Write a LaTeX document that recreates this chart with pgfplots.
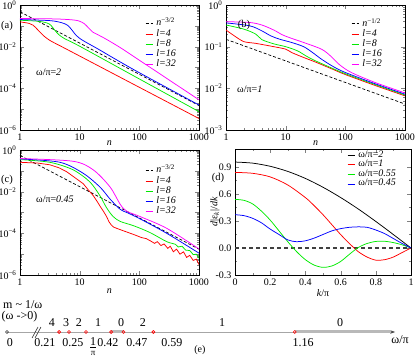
\documentclass[border=0pt]{standalone}
\usepackage{fontspec}
\setmainfont{Liberation Serif}
\usepackage{pgfplots}
\pgfplotsset{compat=1.18}
\usetikzlibrary{arrows.meta}
\definecolor{cR}{RGB}{255,0,0}
\definecolor{cG}{RGB}{0,235,0}
\definecolor{cB}{RGB}{0,0,255}
\definecolor{cM}{RGB}{255,0,255}
\pgfplotsset{
  base/.style={scale only axis, tick align=inside,
    tick label style={font=\fontsize{10}{12}\selectfont},
    label style={font=\fontsize{10}{12}\selectfont},
    major tick length=4pt, minor tick length=2pt,
    every axis plot/.append style={line width=0.75pt},
    legend cell align=left,
    legend style={draw=none, fill=none, anchor=north west, row sep=0pt, column sep=3pt,
      inner sep=0pt, font=\fontsize{10}{12}\selectfont,
      nodes={inner sep=0.5pt, text height=6.8pt, text depth=2.4pt}},
    legend image code/.code={\draw[##1] (0pt,0pt) -- (7pt,0pt);},
  },
  logpanel/.style={base, xmin=1, xmax=1000,
    xtick={1,10,100,1000}, xticklabels={1,10,100,1000},
    minor xtick={2,3,4,5,6,7,8,9,20,30,40,50,60,70,80,90,200,300,400,500,600,700,800,900},
    xlabel=\textit{n}},
  minysix/.style={minor ytick={2e-6,3e-6,4e-6,5e-6,6e-6,7e-6,8e-6,9e-6,2e-5,3e-5,4e-5,5e-5,6e-5,7e-5,8e-5,9e-5,2e-4,3e-4,4e-4,5e-4,6e-4,7e-4,8e-4,9e-4,2e-3,3e-3,4e-3,5e-3,6e-3,7e-3,8e-3,9e-3,0.02,0.03,0.04,0.05,0.06,0.07,0.08,0.09,0.2,0.3,0.4,0.5,0.6,0.7,0.8,0.9}},
  minythree/.style={minor ytick={2e-3,3e-3,4e-3,5e-3,6e-3,7e-3,8e-3,9e-3,0.02,0.03,0.04,0.05,0.06,0.07,0.08,0.09,0.2,0.3,0.4,0.5,0.6,0.7,0.8,0.9}},
  dashref/.style={black, dash pattern=on 3pt off 2pt, line width=0.7pt},
}
\begin{document}
\begin{tikzpicture}[x=1pt,y=1pt]
\useasboundingbox (0pt,0pt) rectangle (415pt,359pt);

% ---------------- (a)
\begin{axis}[xmode=log, ymode=log, logpanel, at={(20pt,229pt)}, anchor=south west, width=179pt, height=125pt,
  ymin=1e-6, ymax=1, minysix,
  ytick={1e-6,1e-5,1e-4,1e-3,1e-2,1e-1,1},
  yticklabels={10\textsuperscript{−6},,10\textsuperscript{−4},,10\textsuperscript{−2},,10\textsuperscript{0}},
  xlabel style={at={(axis description cs:0.5,-0.104)}, anchor=center},
  legend style={at={(0.698,0.892)}}]
\addplot[dashref] coordinates {(1,0.47) (1000,1.49e-5)};
\addlegendentry{\textit{n}\raisebox{3pt}{\scriptsize −3/2}}
\addplot[cR, smooth, tension=0.5] coordinates {(1,0.155) (1.41,0.132) (1.66,0.107) (2.0,0.0631) (2.45,0.0347) (3.16,0.0200) (5.01,0.0100) (10,0.00355) (100,1.12e-4) (1000,3.55e-6)};
\addlegendentry{\textit{l=4}}
\addplot[cG, smooth, tension=0.5] coordinates {(1,0.186) (2.0,0.166) (2.82,0.138) (3.31,0.105) (3.80,0.0631) (4.47,0.038) (5.62,0.024) (10,0.0105) (100,2.82e-4) (1000,7.59e-6)};
\addlegendentry{\textit{l=8}}
\addplot[cB, smooth, tension=0.5] coordinates {(1,0.200) (3.16,0.178) (5.01,0.141) (6.31,0.105) (7.41,0.0631) (8.51,0.038) (10,0.0251) (12.6,0.0166) (20,0.00794) (39.8,0.00251) (100,5.62e-4) (1000,1.58e-5)};
\addlegendentry{\textit{l=16}}
\addplot[cM, smooth, tension=0.5] coordinates {(1,0.224) (3.98,0.214) (7.94,0.191) (10,0.166) (12.0,0.126) (14.1,0.0794) (16.6,0.0501) (20,0.038) (28.2,0.0224) (50.1,0.00832) (100,0.00224) (316,2.51e-4) (1000,2.82e-5)};
\addlegendentry{\textit{l=32}}
\end{axis}

% ---------------- (b)
\begin{axis}[xmode=log, ymode=log, logpanel, at={(226pt,229pt)}, anchor=south west, width=179pt, height=125pt,
  ymin=1e-3, ymax=1, minythree,
  ytick={1e-3,1e-2,1e-1,1},
  yticklabels={10\textsuperscript{−3},10\textsuperscript{−2},10\textsuperscript{−1},10\textsuperscript{0}},
  xlabel style={at={(axis description cs:0.5,-0.104)}, anchor=center},
  legend style={at={(0.698,0.892)}}]
\addplot[dashref] coordinates {(1,0.15) (1000,0.0042)};
\addlegendentry{\textit{n}\raisebox{3pt}{\scriptsize −1/2}}
\addplot[cR, smooth, tension=0.5] coordinates {(1,0.251) (1.41,0.178) (2.0,0.132) (3.16,0.120) (6.31,0.1) (10,0.0871) (12.6,0.0724) (20,0.055) (31.6,0.0427) (63.1,0.0282) (100,0.0214) (316,0.0117) (1000,0.0066)};
\addlegendentry{\textit{l=4}}
\addplot[cG, smooth, tension=0.5] coordinates {(1,0.331) (2.0,0.263) (3.16,0.2) (3.98,0.148) (6.31,0.117) (10,0.1) (15.8,0.0794) (22.4,0.0589) (31.6,0.0457) (63.1,0.0295) (100,0.0224) (316,0.0123) (1000,0.00692)};
\addlegendentry{\textit{l=8}}
\addplot[cB, smooth, tension=0.5] coordinates {(1,0.372) (2.51,0.316) (3.98,0.24) (5.62,0.182) (7.94,0.151) (12.6,0.126) (20,0.1) (28.2,0.0724) (39.8,0.0501) (63.1,0.0331) (100,0.024) (316,0.0129) (1000,0.00724)};
\addlegendentry{\textit{l=16}}
\addplot[cM, smooth, tension=0.5] coordinates {(1,0.398) (2.51,0.380) (3.98,0.331) (6.31,0.251) (8.91,0.191) (12.6,0.158) (20,0.126) (39.8,0.0871) (56.2,0.0603) (79.4,0.0372) (126,0.024) (316,0.0138) (1000,0.00776)};
\addlegendentry{\textit{l=32}}
\end{axis}

% ---------------- (c)
\begin{axis}[xmode=log, ymode=log, logpanel, at={(20pt,84pt)}, anchor=south west, width=179pt, height=125pt,
  ymin=1e-6, ymax=1, minysix,
  ytick={1e-6,1e-5,1e-4,1e-3,1e-2,1e-1,1},
  yticklabels={10\textsuperscript{−6},,10\textsuperscript{−4},,10\textsuperscript{−2},,10\textsuperscript{0}},
  xlabel style={at={(axis description cs:0.5,-0.128)}, anchor=center},
  legend style={at={(0.698,0.876)}}]
\addplot[dashref] coordinates {(1,0.55) (1000,1.74e-5)};
\addlegendentry{\textit{n}\raisebox{3pt}{\scriptsize −3/2}}
\addplot[cR] coordinates {(1,0.257) (2,0.235) (3.16,0.195) (4.5,0.14) (6.03,0.0912) (8.5,0.045) (11.5,0.024) (14,0.012) (17.0,0.00631) (19.5,0.0035) (21.9,0.00204) (25,0.00115) (28.2,6.46e-4) (31,3.6e-4) (33.9,2.51e-4) (37,2.0e-4) (41.7,1.74e-4) (55,1.3e-4) (79.4,8.91e-5) (110,6.2e-5) (130,5.6e-5) (151,4.47e-5) (180,3.3e-5) (200,4.0e-5) (230,2.6e-5) (260,3.1e-5) (300,1.9e-5) (330,2.4e-5) (372,1.3e-5) (420,1.75e-5) (480,1.0e-5) (550,1.3e-5) (620,7e-6) (700,8.8e-6) (800,5e-6) (900,5.8e-6) (1000,3.16e-6)};
\addlegendentry{\textit{l=4}}
\addplot[cG, smooth, tension=0.5] coordinates {(1,0.347) (3.16,0.257) (7.76,0.112) (14.8,0.0295) (21.9,0.0063) (28.2,0.0017) (36.3,6.46e-4) (47.9,3.72e-4) (79.4,2.34e-4) (150,1.1e-4) (288,3.98e-5) (400,3.0e-5) (450,2.2e-5) (520,2.4e-5) (600,1.55e-5) (700,1.5e-5) (800,9.5e-6) (900,1.0e-5) (1000,6.31e-6)};
\addlegendentry{\textit{l=8}}
\addplot[cB, smooth, tension=0.5] coordinates {(1,0.372) (4.68,0.257) (11.5,0.0759) (21.9,0.0166) (32.4,0.00437) (47.9,0.00141) (61.7,0.001) (102,5.01e-4) (288,1.0e-4) (1000,1.12e-5)};
\addlegendentry{\textit{l=16}}
\addplot[cM, smooth, tension=0.5] coordinates {(1,0.389) (7.76,0.288) (17.0,0.110) (32.4,0.0166) (47.9,0.00245) (61.7,0.00115) (102,6.46e-4) (288,1.74e-4) (1000,1.78e-5)};
\addlegendentry{\textit{l=32}}
\end{axis}

% ---------------- (d)
\begin{axis}[base, at={(235pt,84pt)}, anchor=south west, width=176pt, height=126pt,
  xmin=0, xmax=1, ymin=-0.3, ymax=1.1,
  xtick={0,0.2,0.4,0.6,0.8,1}, xticklabels={0,0.2,0.4,0.6,0.8,1},
  ytick={-0.3,0,0.3,0.6,0.9}, yticklabels={-0.3,0.0,0.3,0.6,0.9},
  minor x tick num=1, minor y tick num=1,
  xlabel={\textit{k}/π},
  xlabel style={at={(axis description cs:0.5,-0.142)}, anchor=center},
  ylabel={\textit{d}|ε\textsubscript{\textit{k}}|/\textit{dk}},
  ylabel style={at={(axis description cs:-0.114,0.5)}, anchor=center, rotate=0},
  legend style={at={(0.636,0.99)}, nodes={inner sep=0.5pt, text height=6.2pt, text depth=2.4pt}}]
\addplot[black!75, dash pattern=on 4pt off 3pt, line width=1.1pt, forget plot] coordinates {(0,0) (1,0)};
\addplot[black, smooth] coordinates {(0,0.955) (0.1,0.943) (0.2,0.908) (0.3,0.851) (0.4,0.773) (0.5,0.675) (0.6,0.561) (0.7,0.434) (0.8,0.295) (0.9,0.149) (1,0)};
\addlegendentry{ω/π=\textit{2}}
\addplot[cR, smooth] coordinates {(0,0.84) (0.1,0.83) (0.2,0.79) (0.3,0.70) (0.4,0.56) (0.45,0.47) (0.5,0.37) (0.55,0.26) (0.6,0.15) (0.65,0.05) (0.7,-0.04) (0.75,-0.10) (0.8,-0.135) (0.85,-0.13) (0.9,-0.10) (0.95,-0.05) (1,0)};
\addlegendentry{ω/π=\textit{1}}
\addplot[cG, smooth] coordinates {(0,0.54) (0.05,0.53) (0.1,0.49) (0.15,0.41) (0.2,0.31) (0.25,0.19) (0.3,0.07) (0.35,-0.04) (0.4,-0.13) (0.45,-0.19) (0.5,-0.215) (0.55,-0.20) (0.6,-0.15) (0.65,-0.07) (0.7,0.005) (0.75,0.05) (0.8,0.073) (0.85,0.075) (0.9,0.06) (0.95,0.035) (1,0)};
\addlegendentry{ω/π=\textit{0.55}}
\addplot[cB, smooth] coordinates {(0,0.37) (0.05,0.36) (0.1,0.33) (0.15,0.28) (0.2,0.21) (0.25,0.15) (0.3,0.09) (0.35,0.07) (0.4,0.08) (0.45,0.11) (0.5,0.15) (0.55,0.19) (0.6,0.215) (0.65,0.23) (0.7,0.235) (0.75,0.23) (0.8,0.20) (0.85,0.16) (0.9,0.105) (0.95,0.05) (1,0)};
\addlegendentry{ω/π=\textit{0.45}}
\end{axis}

% ---------------- (e) number line
\begin{axis}[at={(0pt,0pt)}, anchor=south west, scale only axis, width=415pt, height=59pt,
  xmin=-0.0282, xmax=1.645, ymin=0, ymax=59, hide axis, clip=false]
\addplot[draw=gray!70, line width=0.6pt, -{Stealth[length=5pt,width=3.5pt,color=black!70]}] coordinates {(0,27) (1.565,27)};
\addplot[gray!55, line width=3pt] coordinates {(0.42,27) (0.47,27)};
\addplot[gray!55, line width=3pt] coordinates {(1.16,27) (1.548,27)};
\addplot[black!80, line width=0.6pt] coordinates {(0.101,21) (0.125,32)};
\addplot[black!80, line width=0.6pt] coordinates {(0.113,21) (0.137,32)};
\addplot[only marks, mark=o, mark size=1.5pt, black!80, mark options={line width=0.6pt}] coordinates {(0,27)};
\addplot[only marks, mark=o, mark size=1.5pt, cR, mark options={line width=0.6pt, fill=white}] coordinates {(0.21,27) (0.25,27) (0.3183,27) (0.42,27) (0.47,27) (0.59,27) (1.16,27)};
\begin{scope}[every node/.style={font=\fontsize{12}{14}\selectfont, inner sep=0pt}]
\node[anchor=west] at (axis cs:-0.016,54) {m \textasciitilde\ 1/ω};
\node[anchor=west] at (axis cs:-0.022,42) {(ω ->0)};
\node at (axis cs:0.181,36) {4};
\node at (axis cs:0.238,36) {3};
\node at (axis cs:0.290,36) {2};
\node at (axis cs:0.367,36) {1};
\node at (axis cs:0.460,36) {0};
\node at (axis cs:0.548,36) {2};
\node at (axis cs:0.867,36) {1};
\node at (axis cs:1.343,36) {0};
\node at (axis cs:0.012,16) {0};
\node at (axis cs:0.153,16) {0.21};
\node at (axis cs:0.266,16) {0.25};
\node at (axis cs:0.347,16) {\underline{1}};
\node[font=\fontsize{9}{10}\selectfont] at (axis cs:0.347,5.5) {π};
\node at (axis cs:0.407,16) {0.42};
\node at (axis cs:0.524,16) {0.47};
\node at (axis cs:0.665,16) {0.59};
\node at (axis cs:1.194,16) {1.16};
\node at (axis cs:1.585,19) {ω/π};
\node[font=\fontsize{10}{12}\selectfont] at (axis cs:0.778,9) {(e)};
\end{scope}
\end{axis}

% panel letters and annotations
\begin{scope}[every node/.style={font=\fontsize{10.5}{12}\selectfont, inner sep=0pt}]
\node at (7pt,333pt) {(a)};
\node at (244pt,334pt) {(b)};
\node at (7pt,179pt) {(c)};
\node at (218pt,181pt) {(d)};
\node[anchor=west, font=\fontsize{10}{12}\selectfont] at (36pt,287pt) {ω/π=\textit{2}};
\node[anchor=west, font=\fontsize{10}{12}\selectfont] at (237pt,270pt) {ω/π=\textit{1}};
\node[anchor=west, font=\fontsize{10}{12}\selectfont] at (36pt,160pt) {ω/π=\textit{0.45}};
\end{scope}
\end{tikzpicture}
\end{document}
